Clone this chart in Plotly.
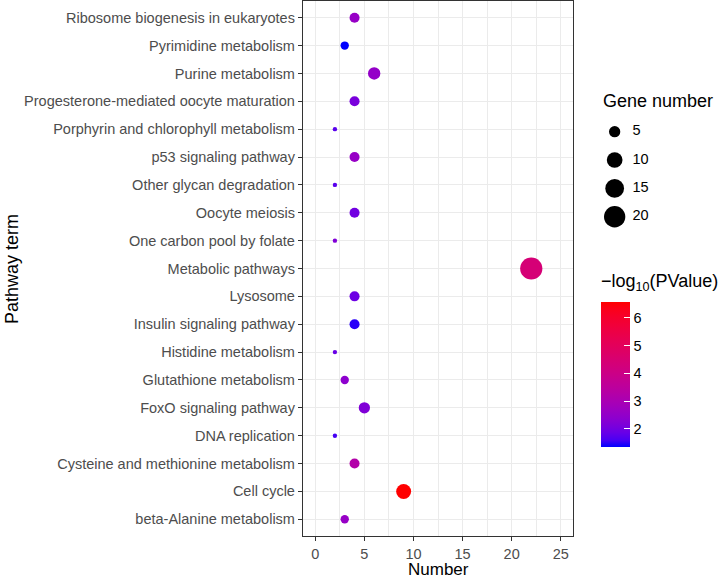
import numpy as np
import plotly.graph_objects as go

# ── Data (top → bottom as shown on the y axis) ────────────────────────────────
pathways = [
    "Ribosome biogenesis in eukaryotes",
    "Pyrimidine metabolism",
    "Purine metabolism",
    "Progesterone-mediated oocyte maturation",
    "Porphyrin and chlorophyll metabolism",
    "p53 signaling pathway",
    "Other glycan degradation",
    "Oocyte meiosis",
    "One carbon pool by folate",
    "Metabolic pathways",
    "Lysosome",
    "Insulin signaling pathway",
    "Histidine metabolism",
    "Glutathione metabolism",
    "FoxO signaling pathway",
    "DNA replication",
    "Cysteine and methionine metabolism",
    "Cell cycle",
    "beta-Alanine metabolism",
]
gene_number = [4, 3, 6, 4, 2, 4, 2, 4, 2, 22, 4, 4, 2, 3, 5, 2, 4, 9, 3]
neg_log10_p = [2.6, 1.36, 2.55, 2.1, 1.75, 2.6, 1.75, 2.0, 2.2, 4.4,
               1.95, 1.5, 1.9, 2.4, 2.2, 1.6, 3.25, 6.58, 2.6]
size_breaks = [5, 10, 15, 20]
x_ticks = [0, 5, 10, 15, 20, 25]

FONT = "Liberation Sans, Arial, sans-serif"
GRID = "#EBEBEB"
BORDER = "#333333"

# plot area in pixels (margins below): x 303..727, y 1..536
PL, PW, PB, PH = 303, 424, 536, 535


def _px(x):
    return (x - PL) / PW


def _py(y):
    return (PB - y) / PH


# ── Helpers ───────────────────────────────────────────────────────────────────
def _lab_to_hex(L, a, b):
    fy = (L + 16) / 116
    fx, fz = fy + a / 500, fy - b / 200
    inv = lambda t: t ** 3 if t > 6 / 29 else 3 * (6 / 29) ** 2 * (t - 4 / 29)
    X, Y, Z = 0.95047 * inv(fx), inv(fy), 1.08883 * inv(fz)
    rgb = [3.2406 * X - 1.5372 * Y - 0.4986 * Z,
           -0.9689 * X + 1.8758 * Y + 0.0415 * Z,
           0.0557 * X - 0.2040 * Y + 1.0570 * Z]
    out = []
    for c in rgb:
        c = min(max(c, 0), 1)
        c = 12.92 * c if c <= 0.0031308 else 1.055 * c ** (1 / 2.4) - 0.055
        out.append(int(round(c * 255)))
    return "#%02X%02X%02X" % tuple(out)


def _blue_red_scale(n=21):
    blue, red = np.array([32.30, 79.19, -107.86]), np.array([53.24, 80.09, 67.20])
    return [[t, _lab_to_hex(*(blue + t * (red - blue)))] for t in np.linspace(0, 1, n)]


vmin, vmax = min(gene_number), max(gene_number)


def _diam(v):
    return 3.57 * (1 + 5 * np.sqrt((np.asarray(v, float) - vmin) / (vmax - vmin))) + 0.8


# ── Figure ────────────────────────────────────────────────────────────────────
fig = go.Figure()
fig.add_trace(go.Scatter(
    x=gene_number, y=pathways, mode="markers",
    marker=dict(
        size=_diam(gene_number), color=neg_log10_p,
        colorscale=_blue_red_scale(), cmin=min(neg_log10_p), cmax=max(neg_log10_p),
        line=dict(width=0), opacity=1,
        showscale=True,
        colorbar=dict(
            x=_px(601), xanchor="left", y=_py(374.2), yanchor="middle",
            lenmode="pixels", len=145, thickness=29, outlinewidth=0,
            xpad=0, ypad=0,
            ticks="inside", ticklen=6, tickcolor="white", tickwidth=1,
            tickvals=[2, 3, 4, 5, 6],
            tickfont=dict(family=FONT, size=14.5, color="black"),
        ),
    ),
    showlegend=False, xaxis="x", yaxis="y",
    hovertemplate="<b>%{y}</b><br>Number: %{x}<extra></extra>",
))

# size legend on its own hidden axes
fig.add_trace(go.Scatter(
    x=[0.18] * len(size_breaks), y=[str(s) for s in size_breaks], mode="markers",
    marker=dict(size=_diam(size_breaks), color="black", opacity=1, line=dict(width=0)),
    xaxis="x2", yaxis="y2", showlegend=False, hoverinfo="skip",
))
fig.add_trace(go.Scatter(
    x=[0.31] * len(size_breaks), y=[str(s) for s in size_breaks], mode="text",
    text=[str(s) for s in size_breaks], textposition="middle right",
    textfont=dict(family=FONT, size=14.5, color="black"),
    xaxis="x2", yaxis="y2", showlegend=False, hoverinfo="skip",
))

axis_common = dict(
    showline=True, linecolor=BORDER, linewidth=1.3, mirror=True,
    ticks="outside", ticklen=4, tickcolor=BORDER, tickwidth=1,
    gridcolor=GRID, gridwidth=1, zeroline=False,
    tickfont=dict(family=FONT, size=14.5, color="#4D4D4D"),
)
ann_font = dict(family=FONT, size=18, color="black")
fig.update_layout(
    width=727, height=578,
    margin=dict(l=PL, r=0, t=1, b=578 - PB, autoexpand=False),
    plot_bgcolor="white", paper_bgcolor="white",
    font=dict(family=FONT),
    xaxis=dict(
        domain=[0, _px(573)], range=[-1.25, 26.25], tickvals=x_ticks,
        minor=dict(dtick=2.5, tick0=0, showgrid=True, gridcolor=GRID, gridwidth=0.6),
        **axis_common,
    ),
    yaxis=dict(
        type="category", categoryorder="array", categoryarray=pathways[::-1],
        range=[-0.6, len(pathways) - 0.4], **axis_common,
    ),
    xaxis2=dict(domain=[_px(590), 1], range=[0, 1], visible=False, anchor="y2"),
    yaxis2=dict(
        domain=[_py(230.9), _py(117.5)], type="category",
        categoryorder="array", categoryarray=[str(s) for s in size_breaks][::-1],
        range=[-0.5, len(size_breaks) - 0.5], visible=False, anchor="x2",
    ),
    annotations=[
        dict(text="Number", xref="paper", yref="paper",
             x=_px(438), y=_py(569), xanchor="center", yanchor="middle",
             showarrow=False, font=dict(family=FONT, size=17, color="black")),
        dict(text="Pathway term", xref="paper", yref="paper",
             x=_px(12), y=_py(269), xanchor="center", yanchor="middle",
             textangle=-90, showarrow=False, font=ann_font),
        dict(text="Gene number", xref="paper", yref="paper",
             x=_px(601), y=_py(101), xanchor="left", yanchor="middle",
             showarrow=False, font=ann_font),
        dict(text="\u2212log<sub>10</sub>(PValue)", xref="paper", yref="paper",
             x=_px(599), y=_py(282), xanchor="left", yanchor="middle",
             showarrow=False, font=ann_font),
    ],
)

# the page's default 8px body margin would push the figure off the window
fig.write_html("out.html", config={"displayModeBar": False},
               post_script="document.body.style.margin = '0';")
